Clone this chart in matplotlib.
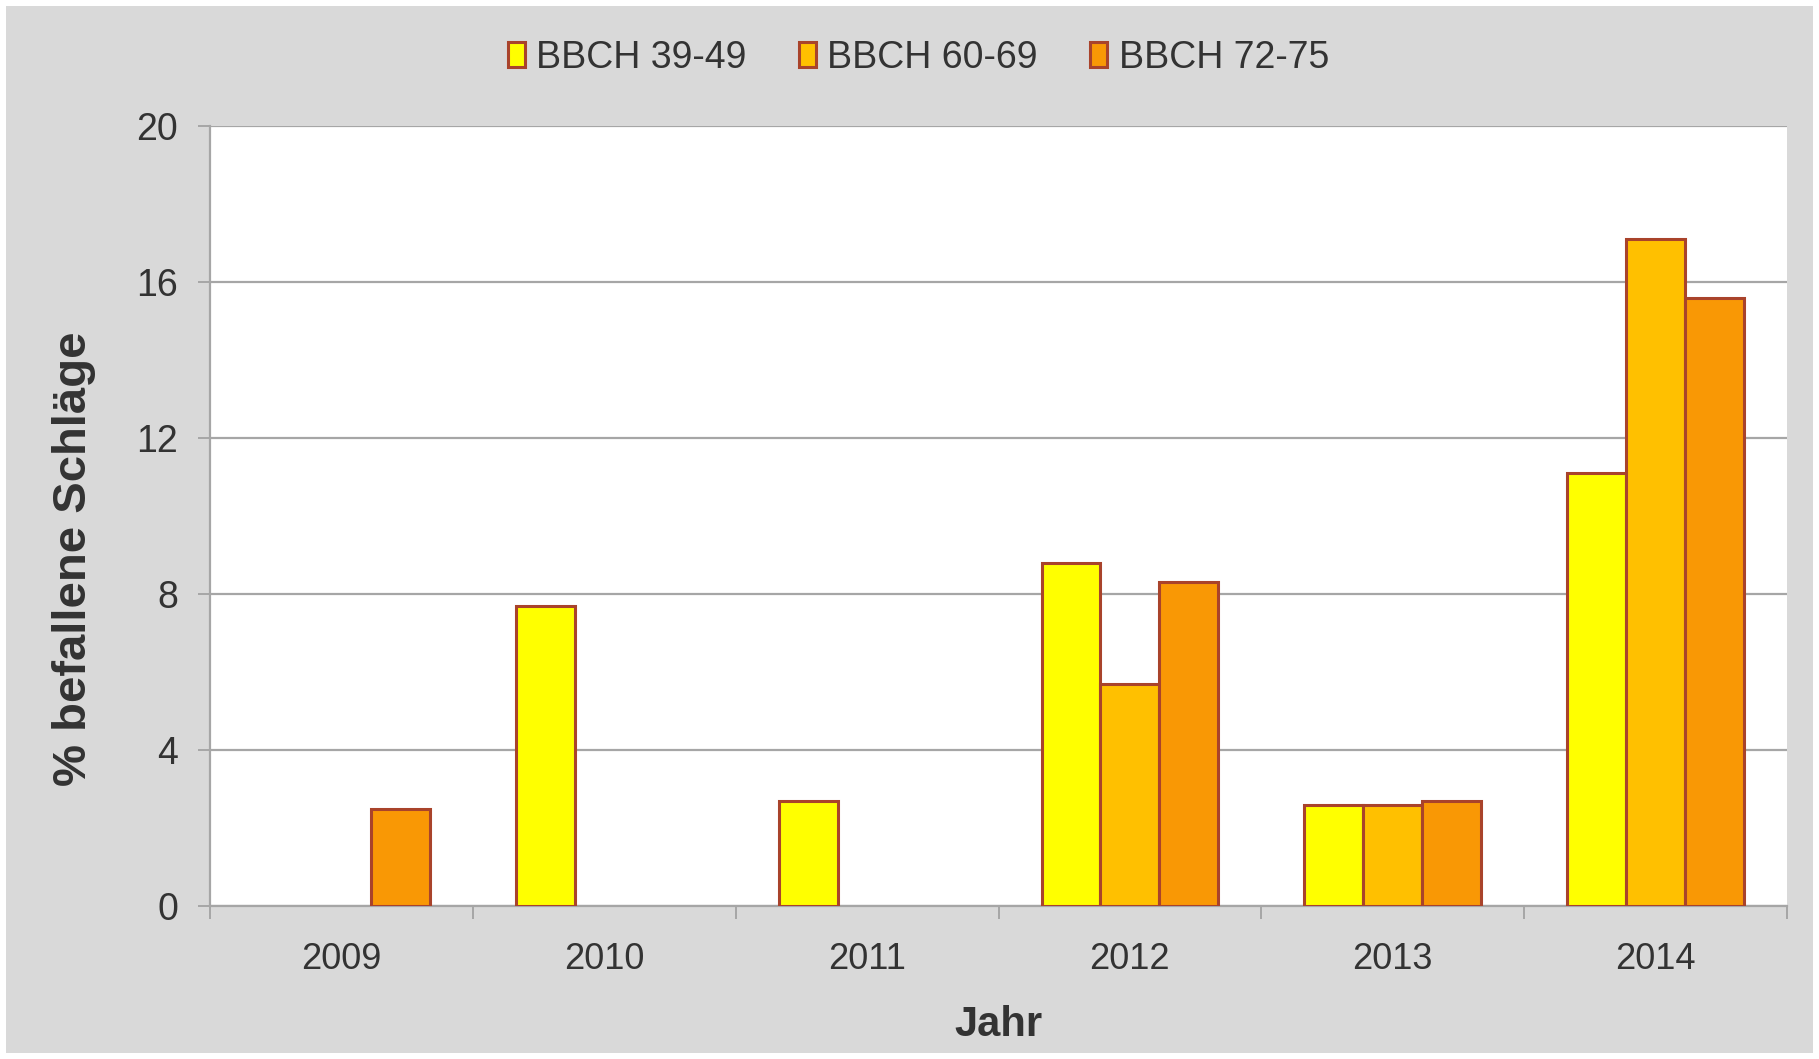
import matplotlib
matplotlib.use("Agg")
import matplotlib.pyplot as plt
import numpy as np
from matplotlib.patches import Rectangle

years = ["2009", "2010", "2011", "2012", "2013", "2014"]
series_names = ["BBCH 39-49", "BBCH 60-69", "BBCH 72-75"]
bbch_39_49 = [0.0, 7.7, 2.7, 8.8, 2.6, 11.1]
bbch_60_69 = [0.0, 0.0, 0.0, 5.7, 2.6, 17.1]
bbch_72_75 = [2.5, 0.0, 0.0, 8.3, 2.7, 15.6]
yticks = [0, 4, 8, 12, 16, 20]

colors = ["#FFFF00", "#FFC000", "#F99805"]
edge = "#A9432B"
bg = "#D9D9D9"

plt.rcParams['font.family'] = ['Liberation Sans', 'DejaVu Sans']

fig = plt.figure(figsize=(18.19, 10.59), dpi=100)
fig.patch.set_facecolor("white")
fig.patches.append(Rectangle((6/1819, 6/1059), 1 - 12/1819, 1 - 12/1059,
                             transform=fig.transFigure, facecolor=bg,
                             edgecolor="none", zorder=-10))

ax = fig.add_axes([210/1819, 1 - 906/1059, (1787 - 210)/1819, (906 - 126)/1059])
ax.set_facecolor("white")

x = np.arange(len(years))
w = 0.224
data = [bbch_39_49, bbch_60_69, bbch_72_75]
for i, (vals, c, name) in enumerate(zip(data, colors, series_names)):
    xs = [xi + (i - 1) * w for xi, v in zip(x, vals) if v > 0]
    vs = [v for v in vals if v > 0]
    ax.bar(xs, vs, width=w, color=c, edgecolor=edge, linewidth=2.2,
           zorder=3, label=name)

ax.set_xlim(-0.5, len(years) - 0.5)
ax.set_ylim(0, 20)
ax.set_yticks(yticks)
ax.set_yticklabels([str(t) for t in yticks], fontsize=27, color="#333333")
ax.yaxis.grid(True, color="#A6A6A6", linewidth=1.6, zorder=0)
ax.set_axisbelow(True)

ax.set_xticks(x)
ax.set_xticklabels(years, fontsize=26, color="#333333")
ax.set_xticks(np.arange(len(years) + 1) - 0.5, minor=True)
ax.tick_params(axis="x", which="major", length=0, pad=26)
ax.tick_params(axis="x", which="minor", length=9, width=1.4, color="#A6A6A6")
ax.tick_params(axis="y", which="major", length=9, width=1.4, color="#A6A6A6", pad=14)

for s in ["top", "right"]:
    ax.spines[s].set_visible(False)
for s in ["left", "bottom"]:
    ax.spines[s].set_color("#A6A6A6")
    ax.spines[s].set_linewidth(1.6)

ax.set_xlabel("Jahr", fontsize=30, fontweight="bold", color="#333333", labelpad=20)
ax.set_ylabel("% befallene Schläge", fontsize=34, fontweight="bold", color="#333333")
ax.yaxis.set_label_coords(-0.072, 0.445)

fig.legend(loc="center", bbox_to_anchor=(0.505, 1 - 58/1059), ncol=3,
           frameon=False, fontsize=27, handlelength=0.45, handleheight=0.65,
           handletextpad=0.3, columnspacing=1.4, labelcolor="#333333")

fig.savefig("out.png", dpi=100, facecolor=fig.get_facecolor())
